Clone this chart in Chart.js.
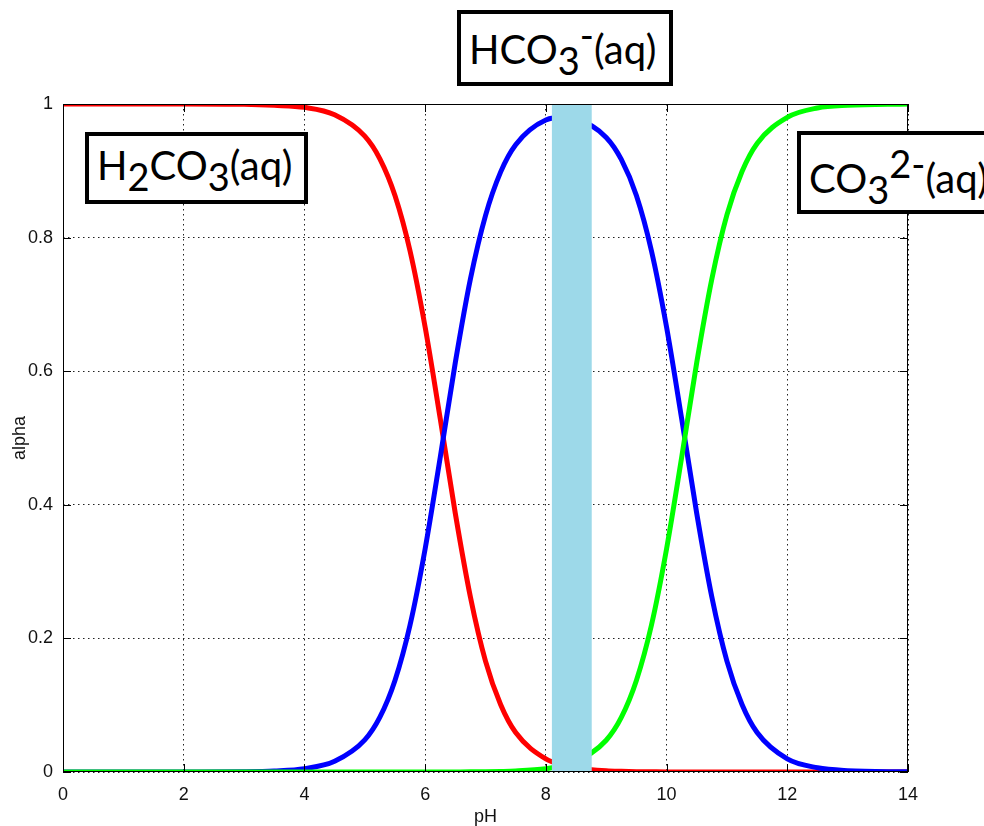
<!DOCTYPE html>
<html>
<head>
<meta charset="utf-8">
<script src="https://cdn.jsdelivr.net/npm/chart.js@4"></script>
<style>
  html, body { margin: 0; padding: 0; background: #fff; overflow: hidden; }
  #wrap { position: relative; width: 984px; height: 826px; overflow: hidden; }
  .lab {
    position: absolute; box-sizing: border-box; border: 4px solid #000; background: #fff;
    font-family: Lato, "Open Sans", sans-serif; font-size: 40px; line-height: 1; color: #000;
    white-space: nowrap;
  }
  .lab span { position: absolute; left: 8px; }
  .lab sub { font-size: 0.95em; vertical-align: -0.3em; line-height: 0; }
  .lab sup { font-size: 0.95em; vertical-align: 0.4em; line-height: 0; }
</style>
</head>
<body>
<div id="wrap">
  <canvas id="myChart" width="984" height="826"></canvas>
  <div class="lab" style="left:85px;top:132px;width:223px;height:72px;"><span style="top:9px;">H<sub>2</sub>CO<sub>3</sub>(aq)</span></div>
  <div class="lab" style="left:457px;top:10px;width:216px;height:76px;"><span style="top:15px;">HCO<sub>3</sub><sup>-</sup>(aq)</span></div>
  <div class="lab" style="left:797px;top:131px;width:230px;height:83px;"><span style="top:23px;">CO<sub>3</sub><sup>2-</sup>(aq)</span></div>
</div>
<script>
"use strict";
// pH values and fractions
const ph = [0, 1, 2, 3, 3.5, 4, 4.5, 5, 5.25, 5.5, 5.75, 6, 6.25, 6.5, 6.75, 7, 7.25, 7.5, 8, 8.3, 8.5,
            9, 9.25, 9.5, 9.75, 10, 10.25, 10.5, 10.75, 11, 11.25, 11.5, 12, 12.5, 13, 14];
const h2co3 = [1, 1, 1, 0.9995, 0.998, 0.995, 0.984, 0.952, 0.918, 0.863, 0.78, 0.666, 0.529, 0.387, 0.262, 0.166, 0.101, 0.059, 0.0195, 0.0098, 0.0062,
               0.0019, 0.001, 0.0005, 0.0003, 0.0001, 0.0001, 0, 0, 0, 0, 0, 0, 0, 0, 0];
const hco3 = [0, 0, 0.0001, 0.0005, 0.0016, 0.005, 0.016, 0.048, 0.082, 0.137, 0.22, 0.334, 0.471, 0.613, 0.738, 0.833, 0.898, 0.939, 0.976, 0.98, 0.978,
              0.95, 0.917, 0.863, 0.78, 0.666, 0.529, 0.387, 0.262, 0.166, 0.101, 0.059, 0.0196, 0.0063, 0.002, 0.0002];
const co3 = [0, 0, 0, 0, 0, 0, 0, 0, 0, 0, 0, 0, 0, 0.0001, 0.0002, 0.0004, 0.0008, 0.0015, 0.0049, 0.0098, 0.0155,
             0.0476, 0.0817, 0.137, 0.22, 0.334, 0.471, 0.613, 0.738, 0.834, 0.899, 0.941, 0.98, 0.994, 0.998, 1];
const band = [8.1, 8.76];
const xTicks = [0, 2, 4, 6, 8, 10, 12, 14];
const yTicks = [0, 0.2, 0.4, 0.6, 0.8, 1];

function pts(ys) {
  return ph.map((x, i) => ({ x: x, y: ys[i] }));
}

const tickFont = { family: "Liberation Sans", size: 18 };

const overlay = {
  id: "overlay",
  afterDatasetsDraw(chart) {
    const ctx = chart.ctx;
    const a = chart.chartArea;
    const xs = chart.scales.x, ys = chart.scales.y;
    ctx.save();
    // highlighted band
    const x0 = xs.getPixelForValue(band[0]), x1 = xs.getPixelForValue(band[1]);
    ctx.fillStyle = "#9dd9e9";
    ctx.fillRect(x0, a.top, x1 - x0, a.bottom - a.top);
    // frame and inner ticks
    ctx.strokeStyle = "#000";
    ctx.lineWidth = 1;
    ctx.strokeRect(a.left + 0.5, a.top + 0.5, a.right - a.left - 1, a.bottom - a.top - 1);
    ctx.beginPath();
    xTicks.forEach(v => {
      const p = Math.round(xs.getPixelForValue(v)) + 0.5;
      ctx.moveTo(p, a.bottom); ctx.lineTo(p, a.bottom - 8);
      ctx.moveTo(p, a.top); ctx.lineTo(p, a.top + 8);
    });
    yTicks.forEach(v => {
      const p = Math.round(ys.getPixelForValue(v)) + 0.5;
      ctx.moveTo(a.left, p); ctx.lineTo(a.left + 8, p);
      ctx.moveTo(a.right, p); ctx.lineTo(a.right - 8, p);
    });
    ctx.stroke();
    ctx.restore();
  }
};

const ctx = document.getElementById("myChart");
new Chart(ctx, {
  type: "line",
  data: {
    datasets: [
      { label: "H2CO3", data: pts(h2co3), borderColor: "#ff0000", order: 2 },
      { label: "HCO3-", data: pts(hco3), borderColor: "#0000ff", order: 1 },
      { label: "CO3 2-", data: pts(co3), borderColor: "#00ff00", order: 0 }
    ]
  },
  options: {
    responsive: false,
    animation: false,
    devicePixelRatio: 1,
    layout: { padding: { left: 0, top: 104, right: 76, bottom: 0 } },
    elements: {
      point: { radius: 0 },
      line: { borderWidth: 5, cubicInterpolationMode: "monotone", fill: false }
    },
    plugins: { legend: { display: false }, tooltip: { enabled: false } },
    scales: {
      x: {
        type: "linear", min: 0, max: 14,
        afterFit(s) { s.height = 54; },
        afterBuildTicks(s) { s.ticks = xTicks.map(v => ({ value: v })); },
        ticks: { font: tickFont, color: "#111", padding: 12, callback: v => String(v) },
        grid: { color: "#222", drawTicks: false },
        border: { display: false, dash: [1.5, 3.5] },
        title: { display: true, text: "pH", font: tickFont, color: "#111", padding: { top: 0, bottom: -2 } }
      },
      y: {
        type: "linear", min: 0, max: 1,
        afterFit(s) { s.width = 63; },
        afterBuildTicks(s) { s.ticks = yTicks.map(v => ({ value: v })); },
        ticks: { font: tickFont, color: "#111", padding: 10, callback: v => String(v) },
        grid: { color: "#222", drawTicks: false },
        border: { display: false, dash: [1.5, 3.5] },
        title: { display: true, text: "alpha", font: tickFont, color: "#111", padding: { top: 9, bottom: 0 } }
      }
    }
  },
  plugins: [overlay]
});
</script>
</body>
</html>
